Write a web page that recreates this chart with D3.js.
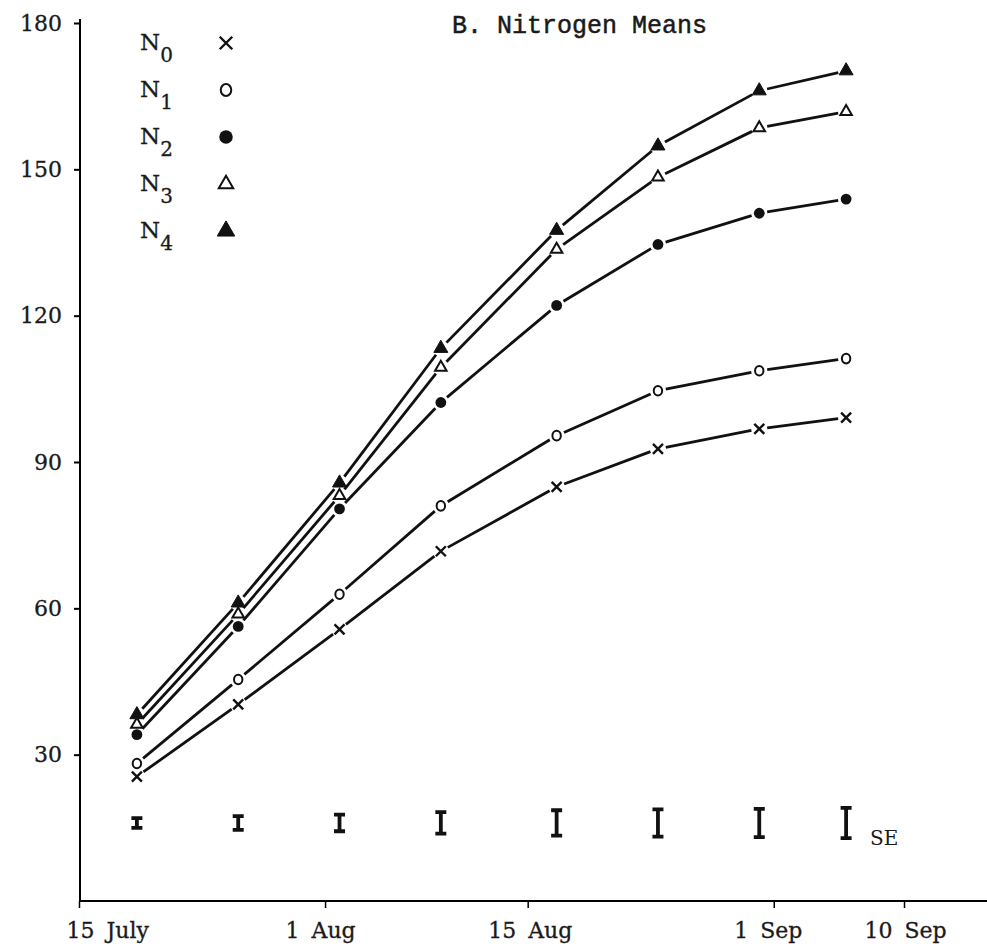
<!DOCTYPE html>
<html>
<head>
<meta charset="utf-8">
<script src="https://cdn.jsdelivr.net/npm/d3@7"></script>
<style>
  body { margin: 0; background: #fff; }
</style>
</head>
<body>
<div id="chart-area"></div>
<script>
// sampling dates and nitrogen level means
var dates = ["19 Jul", "26 Jul", "2 Aug", "9 Aug", "17 Aug", "24 Aug", "31 Aug", "6 Sep"];
var n0 = [25.5, 40.3, 55.7, 71.7, 84.9, 92.7, 96.8, 99.1];
var n1 = [28.2, 45.4, 62.9, 81.0, 95.4, 104.6, 108.7, 111.2];
var n2 = [34.1, 56.3, 80.4, 102.2, 122.1, 134.6, 141.0, 143.9];
var n3 = [36.2, 58.8, 83.1, 109.4, 133.6, 148.4, 158.5, 161.8];
var n4 = [38.2, 61.1, 85.7, 113.3, 137.5, 154.8, 166.1, 170.2];

// standard error bars (half length), drawn around a common level
var seHalf = [1.0, 1.4, 1.7, 2.2, 2.6, 2.8, 2.9, 3.1];
var seLevel = 16;

var yTicks = [30, 60, 90, 120, 150, 180];
var xTickDates = ["15 Jul", "1 Aug", "15 Aug", "1 Sep", "10 Sep"];
var xTickLabels = ["15 July", "1 Aug", "15 Aug", "1 Sep", "10 Sep"];
var seriesNames = ["0", "1", "2", "3", "4"];

var width = 987, height = 948;
var serif = "'DejaVu Serif', 'Liberation Serif', serif";

var parse = d3.timeParse("%d %b");

var svg = d3.select("#chart-area")
    .append("svg")
        .attr("width", width)
        .attr("height", height);

var x = d3.scaleTime()
    .domain([parse("15 Jul"), parse("10 Sep")])
    .range([79, 904]);

var y = d3.scaleLinear()
    .domain([0, 180])
    .range([901, 23]);

// Y axis
var yAxisGroup = svg.append("g")
    .attr("transform", "translate(80, 0)")
    .call(d3.axisLeft(y)
        .tickValues(yTicks)
        .tickSize(6)
        .tickSizeOuter(0)
        .tickPadding(12));
yAxisGroup.select(".domain").attr("d", "M0," + (y(180) - 4) + "V" + y(0)).attr("stroke-width", 2);
yAxisGroup.selectAll(".tick line").attr("stroke-width", 2);
yAxisGroup.selectAll("text")
    .attr("font-family", serif)
    .attr("font-size", 22)
    .attr("fill", "#1a1a1a")
    .attr("stroke", "#1a1a1a")
    .attr("stroke-width", 0.3);

// X axis
var xAxisGroup = svg.append("g")
    .attr("transform", "translate(0, " + y(0) + ")")
    .call(d3.axisBottom(x)
        .tickValues(xTickDates.map(parse))
        .tickFormat((d, i) => xTickLabels[i])
        .tickSize(7)
        .tickSizeOuter(0)
        .tickPadding(14));
xAxisGroup.select(".domain").attr("d", "M79,0H" + width).attr("stroke-width", 2);
xAxisGroup.selectAll(".tick line").attr("stroke-width", 1.5);
xAxisGroup.selectAll("text")
    .attr("font-family", serif)
    .attr("font-size", 22)
    .attr("fill", "#1a1a1a")
    .attr("stroke", "#1a1a1a")
    .attr("stroke-width", 0.3)
    .attr("word-spacing", 5)
    .attr("text-anchor", "start")
    .attr("x", (d, i) => i == 0 ? -13 : -40);

// Title
svg.append("text")
    .attr("x", 452)
    .attr("y", 33)
    .attr("font-family", "'Liberation Mono', 'DejaVu Sans Mono', monospace")
    .attr("font-size", 25)
    .attr("fill", "#1a1a1a")
    .attr("stroke", "#1a1a1a")
    .attr("stroke-width", 0.5)
    .text("B. Nitrogen Means");

// Lines, broken just short of each marker
var series = [n0, n1, n2, n3, n4];
var gap = 8;
series.forEach(vals => {
    var pts = vals.map((v, i) => [x(parse(dates[i])), y(v)]);
    var segs = d3.pairs(pts).map(p => {
        var dx = p[1][0] - p[0][0], dy = p[1][1] - p[0][1];
        var len = Math.sqrt(dx * dx + dy * dy);
        var ux = dx / len, uy = dy / len;
        return [[p[0][0] + ux * gap, p[0][1] + uy * gap], [p[1][0] - ux * gap, p[1][1] - uy * gap]];
    });
    svg.append("g").selectAll("path")
        .data(segs)
        .enter()
        .append("path")
            .attr("d", d3.line())
            .attr("fill", "none")
            .attr("stroke", "#111")
            .attr("stroke-width", 2.8);
});

// Marker styles per nitrogen level
function drawMarker(sel, k, scale) {
    if (k == 0) {
        var s = 5 * scale;
        sel.append("path")
            .attr("d", "M" + (-s) + "," + (-s) + "L" + s + "," + s + "M" + s + "," + (-s) + "L" + (-s) + "," + s)
            .attr("stroke", "#111").attr("stroke-width", 2.4).attr("fill", "none");
    } else if (k == 1) {
        sel.append("ellipse").attr("rx", 4.2 * scale).attr("ry", 4.8 * scale)
            .attr("fill", "#fff").attr("stroke", "#111").attr("stroke-width", 2);
    } else if (k == 2) {
        sel.append("circle").attr("r", 5.4 * scale).attr("fill", "#111");
    } else if (k == 3) {
        sel.append("path").attr("d", d3.symbol().type(d3.symbolTriangle).size(58 * scale * scale))
            .attr("fill", "#fff").attr("stroke", "#111").attr("stroke-width", 2);
    } else {
        sel.append("path").attr("d", d3.symbol().type(d3.symbolTriangle).size(85 * scale * scale))
            .attr("fill", "#111").attr("stroke", "#111").attr("stroke-width", 1);
    }
}

series.forEach((vals, k) => {
    svg.append("g").selectAll("g")
        .data(vals)
        .enter()
        .append("g")
            .attr("transform", (d, i) => "translate(" + x(parse(dates[i])) + "," + y(d) + ")")
            .each(function() { drawMarker(d3.select(this), k, 1); });
});

// SE bars
var seGroup = svg.append("g").selectAll("g")
    .data(seHalf)
    .enter()
    .append("g")
        .attr("transform", (d, i) => "translate(" + x(parse(dates[i])) + ",0)");
seGroup.append("path")
    .attr("d", d => "M0," + y(seLevel + d) + "V" + y(seLevel - d)
        + "M-5.5," + y(seLevel + d) + "H5.5"
        + "M-5.5," + y(seLevel - d) + "H5.5")
    .attr("stroke", "#111")
    .attr("stroke-width", 3.8)
    .attr("fill", "none");

svg.append("text")
    .attr("x", x(parse(dates[dates.length - 1])) + 24)
    .attr("y", y(seLevel) + 22)
    .attr("font-family", serif)
    .attr("font-size", 20)
    .attr("fill", "#1a1a1a")
    .text("SE");

// Legend
var legend = svg.append("g").selectAll("g")
    .data(seriesNames)
    .enter()
    .append("g")
        .attr("transform", (d, i) => "translate(0," + (43 + i * 47) + ")");

var lbl = legend.append("text")
    .attr("x", 140)
    .attr("y", 7)
    .attr("font-family", serif)
    .attr("font-size", 23)
    .attr("fill", "#1a1a1a")
    .attr("stroke", "#1a1a1a")
    .attr("stroke-width", 0.3);
lbl.append("tspan").text("N");
lbl.append("tspan")
    .attr("dy", 12)
    .attr("font-size", 20)
    .text(d => d);

legend.append("g")
    .attr("transform", "translate(226,0)")
    .each(function(d, i) { drawMarker(d3.select(this), i, 1.25); });
</script>
</body>
</html>
